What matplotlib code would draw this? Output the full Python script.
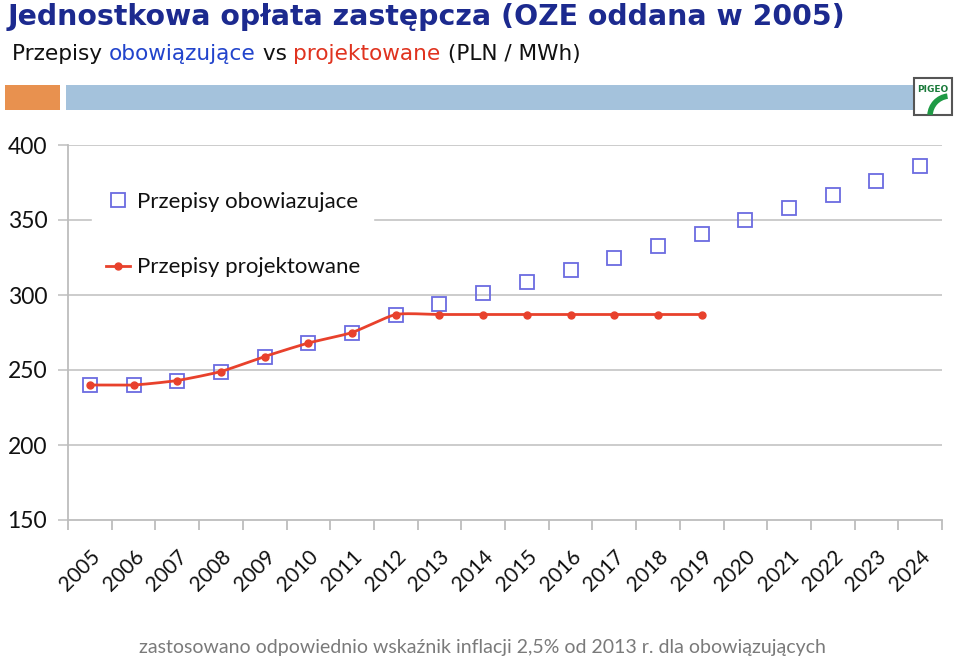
import matplotlib
matplotlib.use("Agg")
import numpy as np
import matplotlib.pyplot as plt
from matplotlib.patches import Rectangle, Arc
from matplotlib.lines import Line2D

years = [str(y) for y in range(2005, 2025)]
obowiazujace = [240, 240, 243, 249, 259, 268, 275, 287, 294, 301.5, 309, 317,
                325, 333, 341, 350, 358, 367, 376, 386]
projektowane = [240, 240, 243, 249, 259, 268, 275, 287, 287, 287, 287, 287,
                287, 287, 287]
yticks = [150, 200, 250, 300, 350, 400]

W, H = 960, 660
fig = plt.figure(figsize=(9.6, 6.6), dpi=100)
plt.rcParams['font.family'] = ['Lato', 'DejaVu Sans']
fig.canvas.draw()
R = fig.canvas.get_renderer()


def fx(px):
    return px / W


def fy(py):
    return 1 - py / H


def fit_text(x, y, s, target_w, fs0, **kw):
    t = fig.text(x, y, s, fontsize=fs0, **kw)
    w = t.get_window_extent(renderer=R).width
    t.set_fontsize(fs0 * target_w / w)
    return t


def smooth(xs, ys, n=20):
    # Catmull-Rom style smoothing between consecutive data points (like Excel's smoothed line)
    xs = np.asarray(xs, float)
    ys = np.asarray(ys, float)
    px = np.concatenate([[xs[0]], xs, [xs[-1]]])
    py = np.concatenate([[ys[0]], ys, [ys[-1]]])
    ox, oy = [], []
    t = np.linspace(0, 1, n)
    for i in range(1, len(px) - 2):
        p0, p1, p2, p3 = (np.array([px[j], py[j]]) for j in (i - 1, i, i + 1, i + 2))
        m1 = (p2 - p0) / 2 * 0.6
        m2 = (p3 - p1) / 2 * 0.6
        h00 = 2 * t**3 - 3 * t**2 + 1
        h10 = t**3 - 2 * t**2 + t
        h01 = -2 * t**3 + 3 * t**2
        h11 = t**3 - t**2
        pts = (np.outer(h00, p1) + np.outer(h10, m1) + np.outer(h01, p2) + np.outer(h11, m2))
        ox.extend(pts[:, 0])
        oy.extend(pts[:, 1])
    return ox, oy


ax = fig.add_axes([fx(68), fy(520), fx(942) - fx(68), fy(145) - fy(520)])
x_all = list(range(len(years)))
ax.set_xlim(-0.5, len(years) - 0.5)
ax.set_ylim(150, 400)
ax.set_yticks(yticks)
ax.set_yticklabels([str(v) for v in yticks], fontsize=16.5, color='#111111')
for v in yticks[1:]:
    ax.axhline(v, color='#c8c8c8', lw=1.3, zorder=0)
for s in ['top', 'right']:
    ax.spines[s].set_visible(False)
for s in ['left', 'bottom']:
    ax.spines[s].set_color('#bdbdbd')
    ax.spines[s].set_linewidth(1.3)
ax.tick_params(axis='y', length=7, color='#c8c8c8', width=1.3, pad=8)
ax.set_xticks([i - 0.5 for i in range(len(years) + 1)])
ax.set_xticklabels([])
ax.tick_params(axis='x', length=7, color='#bdbdbd', width=1.3, direction='out')
ax.set_xticks(x_all, minor=True)
ax.set_xticklabels(years, minor=True, rotation=45, ha='right', va='top',
                   rotation_mode='anchor', fontsize=15, color='#111111')
ax.tick_params(axis='x', which='minor', length=0, pad=19)

ax.plot(x_all, obowiazujace, linestyle='none', marker='s', markersize=10,
        markerfacecolor='none', markeredgecolor='#6b6be0', markeredgewidth=1.3,
        zorder=3)
xp = x_all[:len(projektowane)]
sx, sy = smooth(xp, projektowane)
ax.plot(sx, sy, color='#e8412c', lw=2, zorder=4)
ax.plot(xp, projektowane, linestyle='none', color='#e8412c', marker='o',
        markersize=5, zorder=5)

handles = [
    Line2D([], [], linestyle='none', marker='s', markersize=10, markerfacecolor='none',
           markeredgecolor='#6b6be0', markeredgewidth=1.3),
    Line2D([], [], color='#e8412c', lw=2, marker='o', markersize=5),
]
leg = ax.legend(handles, ['Przepisy obowiazujace', 'Przepisy projektowane'],
                loc='upper left', bbox_to_anchor=(0.015, 0.94), frameon=True,
                fontsize=16, labelspacing=2.05, handlelength=1.1,
                handletextpad=0.3, borderpad=0.6, labelcolor='#111111')
leg.get_frame().set_edgecolor('white')
leg.get_frame().set_facecolor('white')
leg.get_frame().set_alpha(1)

# Title
fit_text(fx(8), fy(17), 'Jednostkowa opłata zastępcza (OZE oddana w 2005)',
         834, 21, fontweight='bold', color='#1c2a8f', va='center', ha='left',
         family='DejaVu Sans')

# Subtitle with colored parts
parts = [('Przepisy ', '#111111'), ('obowiązujące', '#2244cc'), (' vs ', '#111111'),
         ('projektowane', '#e0331f'), (' (PLN / MWh)', '#111111')]
full = ''.join(p[0] for p in parts)
probe = fit_text(0, 0, full, 568, 15, family='DejaVu Sans')
sub_fs = probe.get_fontsize()
probe.remove()
xpos = fx(12)
for txt, col in parts:
    t = fig.text(xpos, fy(54), txt, fontsize=sub_fs, color=col, va='center',
                 ha='left', family='DejaVu Sans')
    bb = t.get_window_extent(renderer=R)
    xpos += bb.width / W

# Decorative bars
fig.add_artist(Rectangle((fx(5), fy(110)), fx(60) - fx(5), fy(85) - fy(110),
                         transform=fig.transFigure, color='#e8914f', lw=0))
fig.add_artist(Rectangle((fx(66), fy(110)), fx(915) - fx(66), fy(85) - fy(110),
                         transform=fig.transFigure, color='#a4c2dc', lw=0))
fig.add_artist(Rectangle((fx(914), fy(115)), fx(952) - fx(914), fy(78) - fy(115),
                         transform=fig.transFigure, facecolor='white',
                         edgecolor='#555555', lw=1.5))
fig.text(fx(933), fy(89), 'PIGEO', fontsize=6.5, fontweight='bold',
         color='#1a7a3a', ha='center', va='center', family='DejaVu Sans')
fig.add_artist(Arc((fx(950), fy(116)), fx(40), fy(0) - fy(40), theta1=95, theta2=175,
                   transform=fig.transFigure, color='#1f9a45', lw=4))

# Footnote
fit_text(fx(482), fy(647),
         'zastosowano odpowiednio wskaźnik inflacji 2,5% od 2013 r. dla obowiązujących',
         685, 13.5, color='#7a7a7a', ha='center', va='center')

fig.savefig('out.png', dpi=100)
